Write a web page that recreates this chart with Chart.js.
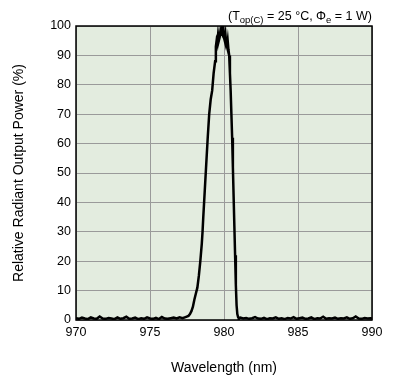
<!DOCTYPE html>
<html>
<head>
<meta charset="utf-8">
<script src="https://cdn.jsdelivr.net/npm/chart.js@4"></script>
<style>
  body { margin: 0; background: #fff; }
  #wrap { width: 396px; height: 384px; }
</style>
</head>
<body>
<div id="wrap"><canvas id="myChart" width="396" height="384"></canvas></div>
<script>
// spectrum (nm, %)
const wavelength = [
  970.0, 970.2, 970.4, 970.6, 970.8, 971.0, 971.2, 971.4, 971.6, 971.8,
  972.0, 972.2, 972.4, 972.6, 972.8, 973.0, 973.2, 973.4, 973.6, 973.8,
  974.0, 974.2, 974.4, 974.6, 974.8, 975.0, 975.2, 975.4, 975.6, 975.8,
  976.0, 976.2, 976.4, 976.6, 976.8, 977.0, 977.2, 977.4, 977.6, 977.7,
  977.8, 977.9, 978.0, 978.1, 978.2, 978.3, 978.4, 978.5, 978.55, 978.6,
  978.7, 978.8, 978.9, 979.0, 979.1, 979.2, 979.3, 979.4, 979.45, 979.5,
  979.55, 979.6, 979.65, 979.7, 979.75, 979.8, 979.85, 979.9, 979.95, 980.0,
  980.05, 980.1, 980.15, 980.2, 980.25, 980.3, 980.35, 980.4, 980.45, 980.5,
  980.55, 980.6, 980.65, 980.7, 980.75, 980.8, 980.85, 980.9, 980.95, 981.0,
  981.1, 981.3, 981.5, 981.7, 981.9, 982.1, 982.3, 982.5, 982.7, 982.9,
  983.1, 983.3, 983.5, 983.7, 983.9, 984.1, 984.3, 984.5, 984.7, 984.9,
  985.1, 985.3, 985.5, 985.7, 985.9, 986.1, 986.3, 986.5, 986.7, 986.9,
  987.1, 987.3, 987.5, 987.7, 987.9, 988.1, 988.3, 988.5, 988.7, 988.9,
  989.1, 989.3, 989.5, 989.7, 989.9, 990.0
];
const power = [
  0.6, 0.4, 0.8, 0.5, 0.3, 0.9, 0.5, 0.4, 1.2, 0.5,
  0.4, 0.7, 0.5, 0.3, 0.9, 0.4, 0.6, 1.1, 0.4, 0.5,
  0.8, 0.3, 0.6, 0.4, 0.9, 0.5, 0.4, 0.7, 0.3, 1.0,
  0.5, 0.4, 0.6, 0.8, 0.5, 0.9, 0.6, 1.0, 1.4, 2,
  3, 4.5, 7, 9, 11, 15, 20, 26, 30, 35,
  44, 53, 62, 70, 75, 78, 84, 88, 93, 95,
  94, 97, 95, 96, 98, 97, 100, 98, 99, 96,
  95, 97, 94, 93, 95, 92, 90, 84, 78, 70,
  62, 52, 42, 32, 22, 12, 5, 2, 1, 0.6,
  0.8, 0.5, 0.7, 0.4, 0.6, 1.0, 0.5, 0.4, 0.7, 0.3,
  0.6, 0.5, 0.9, 0.4, 0.6, 0.3, 0.7, 0.5, 1.0, 0.4,
  0.6, 0.8, 0.4, 0.5, 0.9, 0.3, 0.6, 0.5, 1.1, 0.4,
  0.6, 0.5, 0.8, 0.4, 0.6, 0.5, 0.9, 0.4, 0.6, 1.2,
  0.5, 0.4, 0.7, 0.5, 0.6, 0.5
];
const xTicks = [970, 975, 980, 985, 990];
const yTicks = [0, 10, 20, 30, 40, 50, 60, 70, 80, 90, 100];

const FONT = "'Liberation Sans', Arial, sans-serif";

// green plot background + black frame + condition note
const framePlugin = {
  id: "frame",
  beforeDraw(chart) {
    const { ctx, chartArea: a } = chart;
    ctx.save();
    ctx.fillStyle = "#e3ecdf";
    ctx.fillRect(a.left, a.top, a.right - a.left, a.bottom - a.top);
    ctx.restore();
  },
  afterDraw(chart) {
    const { ctx, chartArea: a } = chart;
    ctx.save();
    ctx.strokeStyle = "#000";
    ctx.lineWidth = 1.5;
    ctx.strokeRect(a.left, a.top, a.right - a.left, a.bottom - a.top);

    // (Top(C) = 25 °C, Φe = 1 W) with subscripts, right aligned
    const parts = [
      ["(T", false], ["op(C)", true], [" = 25 \u00B0C, \u03A6", false],
      ["e", true], [" = 1 W)", false]
    ];
    const big = "12.5px " + FONT, small = "9.5px " + FONT;
    let w = 0;
    parts.forEach(p => { ctx.font = p[1] ? small : big; w += ctx.measureText(p[0]).width; });
    let x = a.right - w;
    const base = 20;
    ctx.fillStyle = "#000";
    ctx.textBaseline = "alphabetic";
    parts.forEach(p => {
      ctx.font = p[1] ? small : big;
      ctx.fillText(p[0], x, p[1] ? base + 3 : base);
      x += ctx.measureText(p[0]).width;
    });
    ctx.restore();
  }
};

new Chart(document.getElementById("myChart").getContext("2d"), {
  type: "line",
  data: {
    datasets: [{
      data: wavelength.map((w, i) => ({ x: w, y: power[i] })),
      borderColor: "#000",
      borderWidth: 2.5,
      pointRadius: 0,
      tension: 0,
      fill: false
    }]
  },
  options: {
    responsive: false,
    animation: false,
    layout: { padding: { left: 0, top: 26, right: 24, bottom: 0 } },
    plugins: { legend: { display: false }, tooltip: { enabled: false } },
    scales: {
      x: {
        type: "linear",
        min: 970, max: 990,
        afterBuildTicks: s => { s.ticks = xTicks.map(v => ({ value: v })); },
        afterFit: s => { s.height = 64; },
        grid: { color: "#9a9a9a", lineWidth: 1, drawTicks: false },
        border: { display: false },
        ticks: { color: "#000", font: { family: FONT, size: 12.5 }, padding: 5, maxRotation: 0 },
        title: {
          display: true, text: "Wavelength (nm)", color: "#000",
          font: { family: FONT, size: 14 }, padding: { top: 0, bottom: 7 }
        }
      },
      y: {
        min: 0, max: 100,
        afterBuildTicks: s => { s.ticks = yTicks.map(v => ({ value: v })); },
        afterFit: s => { s.width = 76; },
        grid: { color: "#9a9a9a", lineWidth: 1, drawTicks: false },
        border: { display: false },
        ticks: { color: "#000", font: { family: FONT, size: 12.5 }, padding: 5 },
        title: {
          display: true, text: "Relative Radiant Output Power (%)", color: "#000",
          font: { family: FONT, size: 14 }, padding: { top: 11, bottom: 0 }
        }
      }
    }
  },
  plugins: [framePlugin]
});
</script>
</body>
</html>
